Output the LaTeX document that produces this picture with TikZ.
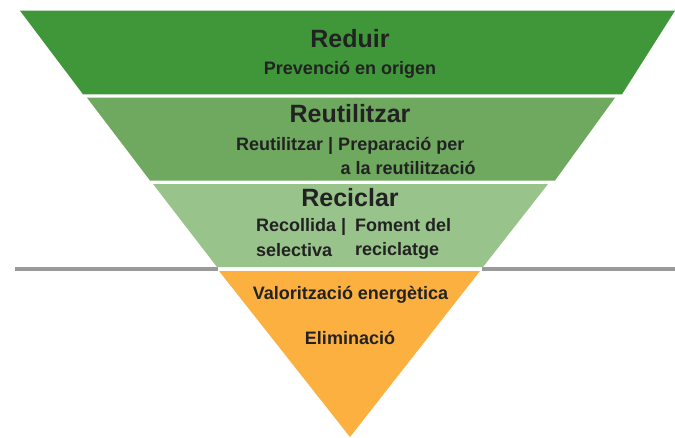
\documentclass[tikz,border=0pt]{standalone}
\usepackage{fontspec}
\setmainfont{Liberation Sans}
\definecolor{gA}{HTML}{3F973A}
\definecolor{gB}{HTML}{6FA85F}
\definecolor{gC}{HTML}{98C38A}
\definecolor{orA}{HTML}{FBB040}
\definecolor{txt}{HTML}{222222}
\definecolor{lineg}{HTML}{999999}
\tikzset{
  ttl/.style={anchor=base, inner sep=0pt, text=txt, font=\fontsize{25}{28}\selectfont\bfseries},
  sub/.style={anchor=base, inner sep=0pt, text=txt, font=\fontsize{18}{20}\selectfont\bfseries},
  subl/.style={sub, anchor=base west},
  sep/.style={draw=lineg, line width=4pt}
}
\begin{document}
\begin{tikzpicture}[x=1pt,y=-1pt]
\useasboundingbox (0,0) rectangle (675,437);
\fill[white] (0,0) rectangle (675,437);
% bands
\fill[gA] (20,10.7) -- (675,10.7) -- (622,94.3) -- (83,94.3) -- cycle;
\fill[gB] (87,97.7) -- (615,97.7) -- (555,180.5) -- (150,180.5) -- cycle;
\fill[gC] (153,184) -- (548,184) -- (483,267) -- (217,267) -- cycle;
\fill[orA] (219,271) -- (480,271) -- (350,437) -- cycle;
% separator line
\coordinate (l0) at (15,269.3);
\coordinate (l1) at (218,269.3);
\coordinate (r0) at (482,269.3);
\coordinate (r1) at (675,269.3);
\draw[sep] (l0) -- (l1);
\draw[sep] (r0) -- (r1);
% texts
\node[ttl] (t1) at (350,47.3) {Reduir};
\node[sub] (s1) at (350,74.3) {Prevenció en origen};
\node[ttl] (t2) at (350,122.3) {Reutilitzar};
\node[subl] (s2a) at (236,150) {Reutilitzar | Preparació per};
\node[subl] (s2b) at (340.5,174.3) {a la reutilització};
\node[ttl] (t3) at (350,206.7) {Reciclar};
\node[subl] (s3a) at (256,231.7) {Recollida |};
\node[subl] (s3b) at (355,231.7) {Foment del};
\node[subl] (s3c) at (256,256.5) {selectiva};
\node[subl] (s3d) at (355,255.5) {reciclatge};
\node[sub] (s4) at (350.5,299) {Valorització energètica};
\node[sub] (s5) at (350,344) {Eliminació};
\end{tikzpicture}
\end{document}
